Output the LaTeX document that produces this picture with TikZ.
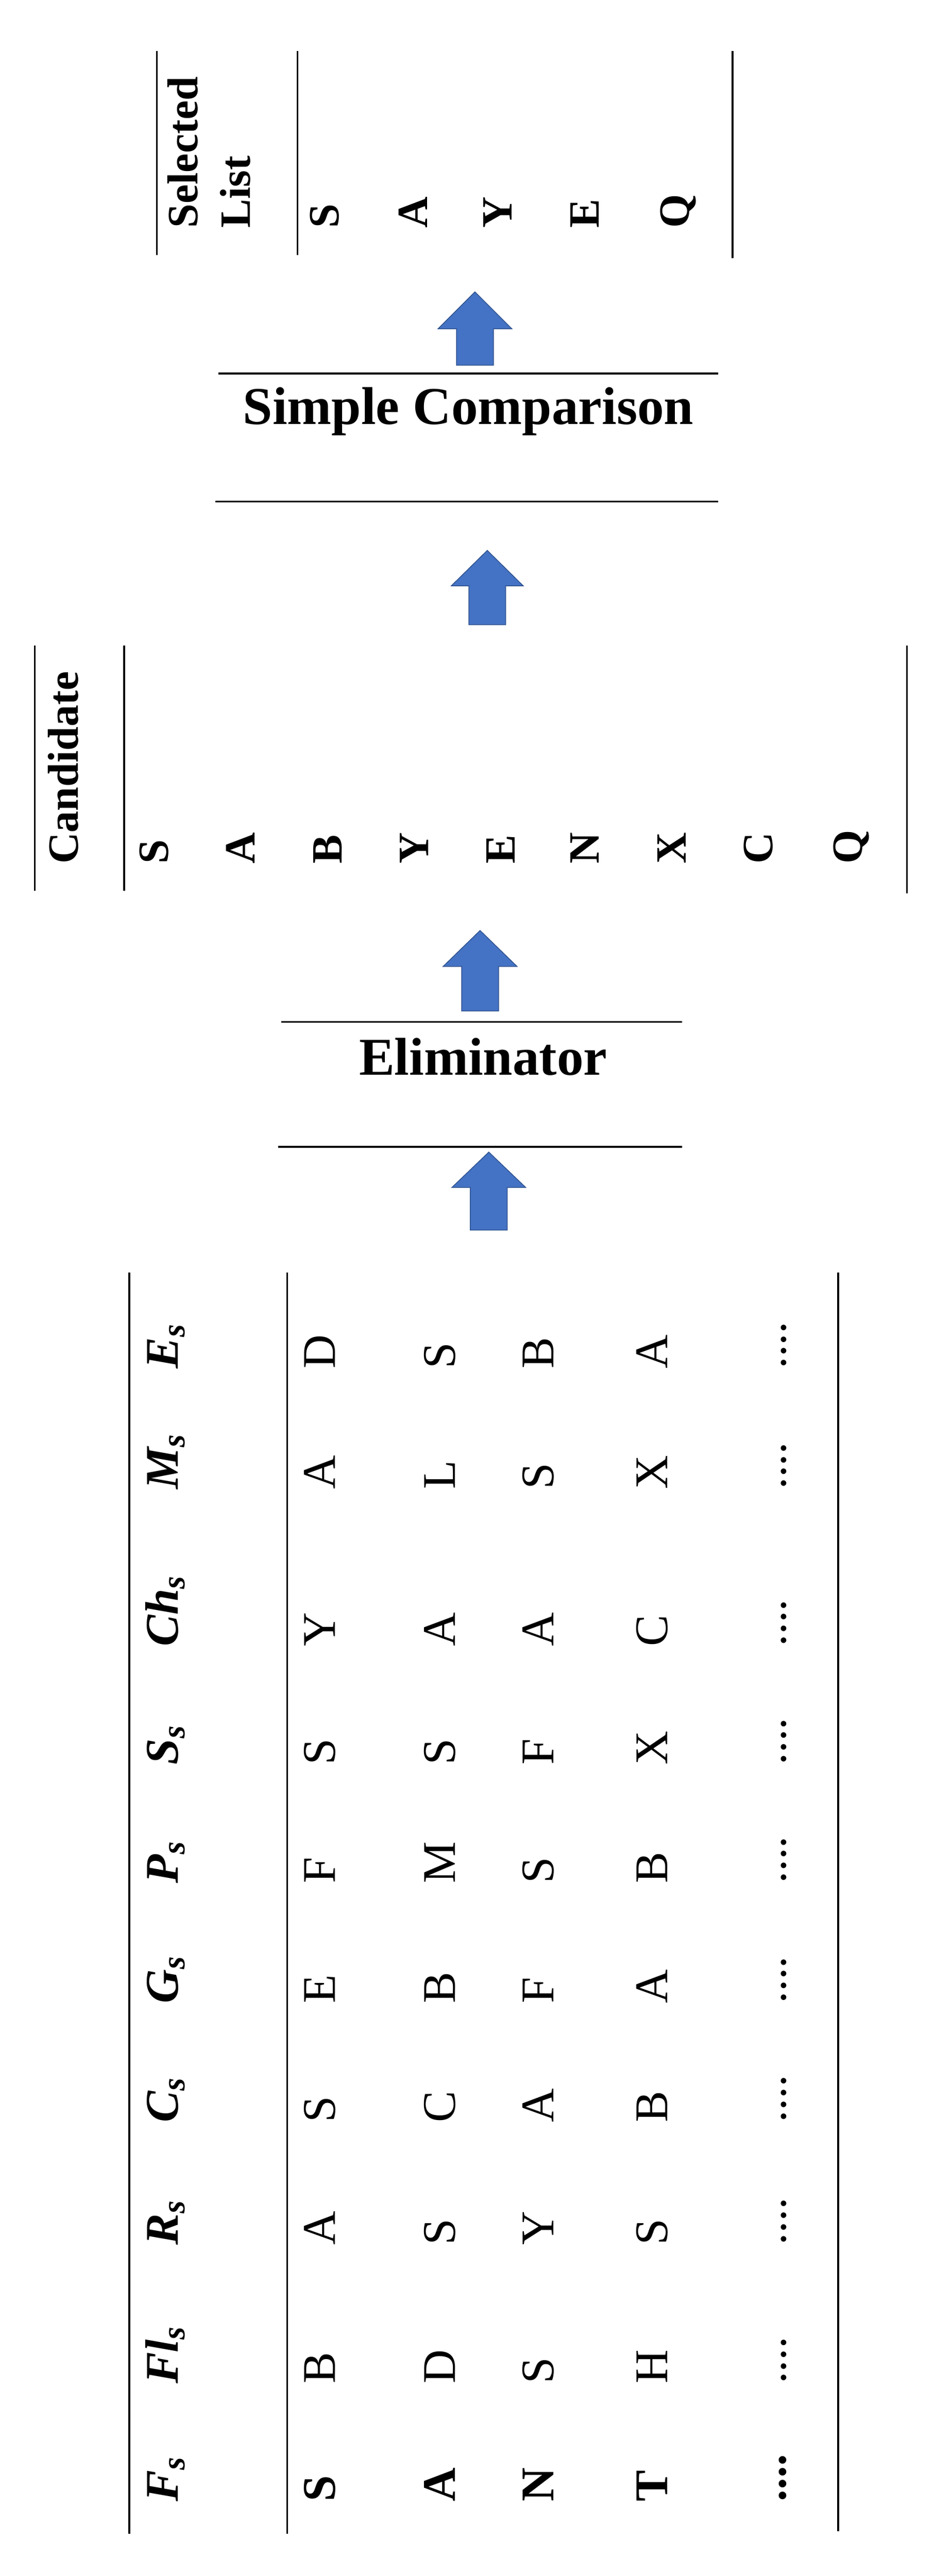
\documentclass[tikz,border=0pt]{standalone}
\usepackage{fontspec}
\setmainfont{Liberation Serif}
\usepackage{xcolor}
\usetikzlibrary{calc,positioning}
\definecolor{arrowfill}{HTML}{4472C4}
\definecolor{arrowline}{HTML}{2F528F}
\tikzset{
  rule/.style={line width=0.035cm},
  vtext/.style={rotate=90, anchor=base west, inner sep=0pt},
  listhead/.style={vtext, font=\fontsize{24}{28}\selectfont\bfseries},
  listentry/.style={vtext, font=\fontsize{24}{28}\selectfont\bfseries},
  tabhead/.style={vtext, font=\fontsize{26}{30}\selectfont\bfseries\itshape},
  tabentry/.style={vtext, font=\fontsize{26}{30}\selectfont},
  tabfirst/.style={vtext, font=\fontsize{26}{30}\selectfont\bfseries},
  steplabel/.style={anchor=base, inner sep=0pt, font=\fontsize{29.5}{34}\selectfont\bfseries},
  blockarrow/.style={fill=arrowfill, draw=arrowline, line width=0.015cm, line join=miter}
}
\begin{document}
\begin{tikzpicture}
\useasboundingbox (0,0) rectangle (18.20,-50.22);

% Selected list
\draw [rule] (3.06,-0.99) -- (3.06,-4.97);
\draw [rule] (5.80,-0.99) -- (5.80,-4.97);
\draw [rule] (14.28,-0.99) -- (14.28,-5.03);
\node (selhead1) [listhead] at (3.85,-4.45) {Selected};
\node (selhead2) [listhead] at (4.88,-4.45) {List};
\node (sel1) [listentry] at (6.60,-4.45) {S};
\node (sel2) [listentry] at (8.33,-4.45) {A};
\node (sel3) [listentry] at (9.98,-4.45) {Y};
\node (sel4) [listentry] at (11.68,-4.45) {E};
\node (sel5) [listentry] at (13.43,-4.45) {Q};

% Arrow into the selected list
\draw [blockarrow] (8.90,-7.12) -- (8.90,-6.41) -- (8.54,-6.41) -- (9.26,-5.69) -- (9.98,-6.41) -- (9.62,-6.41) -- (9.62,-7.12) -- cycle;

% Simple comparison
\draw [rule] (4.26,-7.28) -- (14.00,-7.28);
\node (compare) [steplabel] at (9.13,-8.27) {Simple Comparison};
\draw [rule] (4.20,-9.78) -- (14.00,-9.78);

% Arrow into the comparison
\draw [blockarrow] (9.14,-12.18) -- (9.14,-11.42) -- (8.80,-11.42) -- (9.50,-10.73) -- (10.20,-11.42) -- (9.86,-11.42) -- (9.86,-12.18) -- cycle;

% Candidate list
\draw [rule] (0.68,-12.58) -- (0.68,-17.37);
\draw [rule] (2.42,-12.58) -- (2.42,-17.37);
\draw [rule] (17.68,-12.58) -- (17.68,-17.42);
\node (candhead) [listhead] at (1.52,-16.85) {Candidate};
\node (cand1) [listentry] at (3.28,-16.85) {S};
\node (cand2) [listentry] at (4.97,-16.85) {A};
\node (cand3) [listentry] at (6.66,-16.85) {B};
\node (cand4) [listentry] at (8.35,-16.85) {Y};
\node (cand5) [listentry] at (10.04,-16.85) {E};
\node (cand6) [listentry] at (11.68,-16.85) {N};
\node (cand7) [listentry] at (13.37,-16.85) {X};
\node (cand8) [listentry] at (15.06,-16.85) {C};
\node (cand9) [listentry] at (16.81,-16.85) {Q};

% Arrow into the candidate list
\draw [blockarrow] (9.00,-19.71) -- (9.00,-18.84) -- (8.64,-18.84) -- (9.36,-18.14) -- (10.08,-18.84) -- (9.72,-18.84) -- (9.72,-19.71) -- cycle;

% Eliminator
\draw [rule] (5.48,-19.92) -- (13.30,-19.92);
\node (elim) [steplabel] at (9.42,-20.96) {Eliminator};
\draw [rule] (5.42,-22.36) -- (13.30,-22.36);

% Arrow into the eliminator
\draw [blockarrow] (9.17,-23.98) -- (9.17,-23.15) -- (8.81,-23.15) -- (9.53,-22.46) -- (10.25,-23.15) -- (9.89,-23.15) -- (9.89,-23.98) -- cycle;

% Feature table
\draw [rule] (2.52,-24.81) -- (2.52,-49.40);
\draw [rule] (5.60,-24.81) -- (5.60,-49.40);
\draw [rule] (16.34,-24.81) -- (16.34,-49.35);

% Column F_s
\node (Fs) [tabhead] at (3.47,-48.77) {F\textsubscript{s}};
\node (Fs-1) [tabfirst] at (6.53,-48.77) {S};
\node (Fs-2) [tabfirst] at (8.87,-48.77) {A};
\node (Fs-3) [tabfirst] at (10.79,-48.77) {N};
\node (Fs-4) [tabfirst] at (13.01,-48.77) {T};
\node (Fs-5) [tabfirst] at (15.32,-48.77) {....};

% Column Fl_s
\node (Fls) [tabhead] at (3.47,-46.48) {Fl\textsubscript{s}};
\node (Fls-1) [tabentry] at (6.53,-46.48) {B};
\node (Fls-2) [tabentry] at (8.87,-46.48) {D};
\node (Fls-3) [tabentry] at (10.79,-46.48) {S};
\node (Fls-4) [tabentry] at (13.01,-46.48) {H};
\node (Fls-5) [tabentry] at (15.32,-46.48) {....};

% Column R_s
\node (Rs) [tabhead] at (3.47,-43.77) {R\textsubscript{s}};
\node (Rs-1) [tabentry] at (6.53,-43.77) {A};
\node (Rs-2) [tabentry] at (8.87,-43.77) {S};
\node (Rs-3) [tabentry] at (10.79,-43.77) {Y};
\node (Rs-4) [tabentry] at (13.01,-43.77) {S};
\node (Rs-5) [tabentry] at (15.32,-43.77) {....};

% Column C_s
\node (Cs) [tabhead] at (3.47,-41.38) {C\textsubscript{s}};
\node (Cs-1) [tabentry] at (6.53,-41.38) {S};
\node (Cs-2) [tabentry] at (8.87,-41.38) {C};
\node (Cs-3) [tabentry] at (10.79,-41.38) {A};
\node (Cs-4) [tabentry] at (13.01,-41.38) {B};
\node (Cs-5) [tabentry] at (15.32,-41.38) {....};

% Column G_s
\node (Gs) [tabhead] at (3.47,-39.06) {G\textsubscript{s}};
\node (Gs-1) [tabentry] at (6.53,-39.06) {E};
\node (Gs-2) [tabentry] at (8.87,-39.06) {B};
\node (Gs-3) [tabentry] at (10.79,-39.06) {F};
\node (Gs-4) [tabentry] at (13.01,-39.06) {A};
\node (Gs-5) [tabentry] at (15.32,-39.06) {....};

% Column P_s
\node (Ps) [tabhead] at (3.47,-36.72) {P\textsubscript{s}};
\node (Ps-1) [tabentry] at (6.53,-36.72) {F};
\node (Ps-2) [tabentry] at (8.87,-36.72) {M};
\node (Ps-3) [tabentry] at (10.79,-36.72) {S};
\node (Ps-4) [tabentry] at (13.01,-36.72) {B};
\node (Ps-5) [tabentry] at (15.32,-36.72) {....};

% Column S_s
\node (Ss) [tabhead] at (3.47,-34.41) {S\textsubscript{s}};
\node (Ss-1) [tabentry] at (6.53,-34.41) {S};
\node (Ss-2) [tabentry] at (8.87,-34.41) {S};
\node (Ss-3) [tabentry] at (10.79,-34.41) {F};
\node (Ss-4) [tabentry] at (13.01,-34.41) {X};
\node (Ss-5) [tabentry] at (15.32,-34.41) {....};

% Column Ch_s
\node (Chs) [tabhead] at (3.47,-32.10) {Ch\textsubscript{s}};
\node (Chs-1) [tabentry] at (6.53,-32.10) {Y};
\node (Chs-2) [tabentry] at (8.87,-32.10) {A};
\node (Chs-3) [tabentry] at (10.79,-32.10) {A};
\node (Chs-4) [tabentry] at (13.01,-32.10) {C};
\node (Chs-5) [tabentry] at (15.32,-32.10) {....};

% Column M_s
\node (Ms) [tabhead] at (3.47,-29.04) {M\textsubscript{s}};
\node (Ms-1) [tabentry] at (6.53,-29.04) {A};
\node (Ms-2) [tabentry] at (8.87,-29.04) {L};
\node (Ms-3) [tabentry] at (10.79,-29.04) {S};
\node (Ms-4) [tabentry] at (13.01,-29.04) {X};
\node (Ms-5) [tabentry] at (15.32,-29.04) {....};

% Column E_s
\node (Es) [tabhead] at (3.47,-26.69) {E\textsubscript{s}};
\node (Es-1) [tabentry] at (6.53,-26.69) {D};
\node (Es-2) [tabentry] at (8.87,-26.69) {S};
\node (Es-3) [tabentry] at (10.79,-26.69) {B};
\node (Es-4) [tabentry] at (13.01,-26.69) {A};
\node (Es-5) [tabentry] at (15.32,-26.69) {....};
\end{tikzpicture}
\end{document}
